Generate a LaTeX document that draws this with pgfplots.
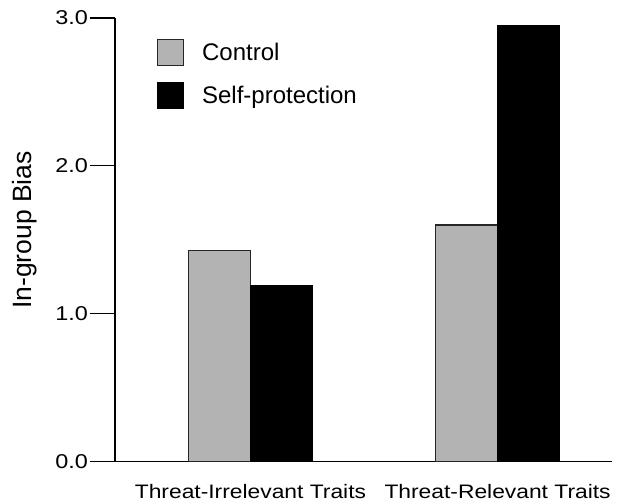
\documentclass[border=0pt]{standalone}
\usepackage{fontspec}
\setmainfont{Liberation Sans}
\newfontfamily\wide{Liberation Sans}[FakeStretch=1.17]
\usepackage{pgfplots}
\pgfplotsset{compat=1.18}
\definecolor{ctrlgray}{HTML}{B3B3B3}
\pgfplotsset{sqlegend/.style={legend image code/.code={\draw[##1] (0pt,-13pt) rectangle (26pt,13pt);}}}

\begin{document}
\begin{tikzpicture}
\begin{axis}[
  at={(0,0)}, anchor=south west,
  scale only axis,
  width=497pt, height=443.7pt,
  xmin=-0.548, xmax=1.463,
  ymin=0, ymax=3,
  axis x line*=bottom, axis y line*=left,
  axis line style={line width=1.2pt, -},
  xtick={0,1},
  xticklabels={Threat-Irrelevant Traits, Threat-Relevant Traits},
  x tick style={draw=none},
  xticklabel style={font=\wide\fontsize{19.5}{23}\selectfont, anchor=base, yshift=-12pt},
  ytick={0,1,2,3},
  tick align=outside,
  major tick length=25pt,
  y tick style={line width=1.2pt, black},
  yticklabel style={font=\wide\fontsize{20}{24}\selectfont, inner sep=2pt},
  /pgf/number format/.cd, fixed, fixed zerofill, precision=1, assume math mode=true,
  /pgfplots/.cd,
  ylabel={In-group Bias},
  ylabel style={font=\fontsize{26.5}{30}\selectfont, at={(axis description cs:-0.156,0.522)}, anchor=south, inner sep=0pt},
  legend style={draw=none, fill=none, inner sep=0pt, column sep=17.7pt, row sep=16pt,
    at={(axis description cs:0.0845,0.9527)}, anchor=north west,
    font=\fontsize{24}{28}\selectfont, nodes={inner sep=0pt}},
  legend cell align=left,
  clip=false,
]
\addplot[ybar, bar width=62pt, bar shift=-31pt, fill=ctrlgray, draw=black!85, line width=1.2pt, sqlegend]
  coordinates {(0,1.43) (1,1.60)};
\addplot[ybar, bar width=62pt, bar shift=31pt, fill=black, draw=black, line width=1pt, sqlegend]
  coordinates {(0,1.19) (1,2.95)};
\legend{Control, Self-protection}
\end{axis}
\pgfresetboundingbox
\path[use as bounding box] (-115pt,-41.3pt) rectangle (516pt,461.7pt);
\end{tikzpicture}
\end{document}
